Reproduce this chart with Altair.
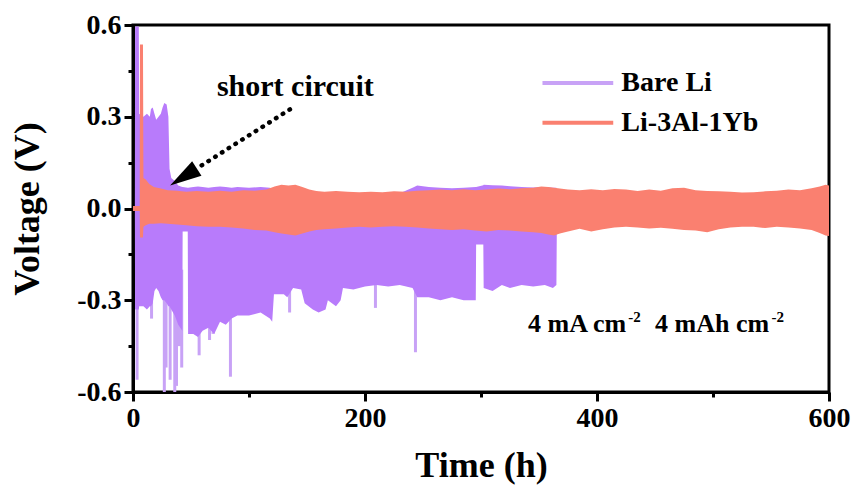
import altair as alt
import pandas as pd

FONT = "Liberation Serif"
PURPLE = "#b87bfb"
PURPLE_LIGHT = "#c8a2f6"
SALMON = "#fa8070"

# ---- Li-3Al-1Yb : envelope of the voltage band (h, V) ----
yb_t = [0, 5.8, 6.0, 8.6, 9.0, 11, 14, 18, 24, 30, 38, 46, 55, 65, 75, 85, 95, 105, 115,
        122, 128, 134, 140, 146, 152, 158, 165, 175, 185, 195, 205, 215, 225, 235, 245,
        255, 265, 275, 285, 295, 305, 315, 325, 335, 345, 352, 358, 363, 368, 375, 385,
        395, 405, 415, 425, 435, 445, 455, 465, 475, 485, 495, 505, 515, 525, 535, 545,
        555, 565, 575, 585, 592, 597, 600]
yb_hi = [0.008, 0.008, 0.536, 0.536, 0.10, 0.095, 0.08, 0.07, 0.065, 0.06, 0.058, 0.055,
         0.057, 0.055, 0.058, 0.055, 0.06, 0.058, 0.062, 0.072, 0.078, 0.075, 0.078, 0.07,
         0.062, 0.057, 0.055, 0.057, 0.055, 0.053, 0.055, 0.053, 0.056, 0.055, 0.058, 0.06,
         0.062, 0.06, 0.063, 0.06, 0.062, 0.065, 0.063, 0.066, 0.068, 0.072, 0.07, 0.068,
         0.065, 0.062, 0.06, 0.063, 0.06, 0.064, 0.062, 0.057, 0.062, 0.058, 0.066, 0.068,
         0.06, 0.057, 0.056, 0.055, 0.052, 0.053, 0.056, 0.058, 0.062, 0.06, 0.066, 0.072,
         0.078, 0.075]
yb_lo = [-0.008, -0.008, -0.095, -0.095, -0.06, -0.055, -0.05, -0.05, -0.048, -0.05,
         -0.052, -0.055, -0.058, -0.06, -0.06, -0.062, -0.065, -0.07, -0.072, -0.078,
         -0.082, -0.085, -0.088, -0.082, -0.075, -0.07, -0.068, -0.065, -0.062, -0.06,
         -0.062, -0.06, -0.058, -0.06, -0.062, -0.065, -0.068, -0.07, -0.068, -0.072,
         -0.075, -0.07, -0.072, -0.075, -0.078, -0.08, -0.085, -0.088, -0.082, -0.075,
         -0.066, -0.075, -0.068, -0.062, -0.06, -0.062, -0.065, -0.063, -0.066, -0.07,
         -0.072, -0.078, -0.068, -0.062, -0.06, -0.06, -0.064, -0.06, -0.062, -0.065,
         -0.07, -0.08, -0.088, -0.09]

# ---- Bare Li : envelope of the voltage band (h, V) ----
li_t = [1.6, 1.8, 5.0, 5.3, 9, 12, 14.5, 15.5, 17, 18.5, 20, 22, 24, 25.5, 27, 29, 30.5,
        31.5, 33, 36, 39, 42.5, 42.8, 47.2, 47.5, 52, 56, 60, 65, 70, 75, 80, 85, 90, 100,
        110, 118, 120, 121.5, 130, 133, 138, 145, 148, 155, 160, 166, 168, 175, 179, 181,
        190, 200, 210, 220, 230, 241, 245, 255, 265, 275, 285, 295.5, 295.8, 302, 302.3,
        310, 318, 325, 335, 345, 355, 362, 365, 365.5]
li_hi = [0.0, 0.595, 0.595, 0.31, 0.30, 0.31, 0.30, 0.325, 0.33, 0.31, 0.29, 0.30, 0.31,
         0.33, 0.345, 0.34, 0.30, 0.13, 0.10, 0.09, 0.075, 0.07, 0.07, 0.068, 0.068, 0.07,
         0.072, 0.07, 0.068, 0.07, 0.072, 0.07, 0.068, 0.07, 0.068, 0.07, 0.068, 0.065,
         0.065, 0.07, 0.07, 0.065, 0.06, 0.06, 0.05, 0.05, 0.05, 0.05, 0.05, 0.05, 0.05,
         0.05, 0.05, 0.05, 0.05, 0.05, 0.068, 0.075, 0.07, 0.068, 0.066, 0.068, 0.07, 0.07,
         0.076, 0.078, 0.076, 0.075, 0.073, 0.07, 0.069, 0.07, 0.068, 0.068, 0.0]
li_lo = [0.0, -0.33, -0.33, -0.32, -0.32, -0.33, -0.32, -0.32, -0.31, -0.27, -0.26,
         -0.27, -0.29, -0.30, -0.30, -0.31, -0.32, -0.32, -0.33, -0.35, -0.38, -0.40,
         -0.075, -0.075, -0.41, -0.41, -0.42, -0.40, -0.39, -0.41, -0.37, -0.38, -0.36,
         -0.35, -0.35, -0.34, -0.36, -0.37, -0.28, -0.28, -0.29, -0.26, -0.265, -0.31,
         -0.33, -0.34, -0.33, -0.30, -0.32, -0.30, -0.26, -0.265, -0.255, -0.25, -0.255,
         -0.25, -0.26, -0.29, -0.29, -0.30, -0.29, -0.30, -0.30, -0.118, -0.118, -0.26,
         -0.27, -0.25, -0.26, -0.25, -0.255, -0.25, -0.26, -0.25, 0.0]

# ---- Bare Li : deep single-cycle spikes (h, V) ----
spike_t = [3.5, 16, 27, 28.5, 32, 36, 37.5, 40, 42, 57, 66, 69, 84, 135, 209, 243.5]
spike_v = [-0.56, -0.36, -0.60, -0.52, -0.56, -0.60, -0.58, -0.45, -0.52, -0.48, -0.43,
           -0.41, -0.55, -0.34, -0.325, -0.47]

# ---- annotations (data units) ----
legend_names = ["Bare Li", "Li-3Al-1Yb"]
legend_colors = [PURPLE_LIGHT, SALMON]
legend_v = [0.41, 0.28]
legend_x0, legend_x1, legend_tx = 353, 414, 421

arrow_start = (135.3, 0.324)
arrow_end = (55.0, 0.131)
arrow_head = (43.5, 0.103)
short_text = (140.0, 0.396)

cond_pieces = ["4 mA cm", "4 mAh cm"]
cond_t = [340.5, 450.0]
sup_t = [427.0, 550.5]
cond_v = -0.405
sup_v = -0.37

X = alt.Scale(domain=[0, 600], nice=False, zero=False)
Y = alt.Scale(domain=[-0.6, 0.6], nice=False, zero=False)

yb = pd.DataFrame({"t": yb_t, "hi": yb_hi, "lo": yb_lo})
li = pd.DataFrame({"t": li_t, "hi": li_hi, "lo": li_lo})
sp = pd.DataFrame({"t": spike_t, "v": spike_v, "top": [-0.2] * len(spike_t)})

x_axis = alt.Axis(
    title="Time (h)", values=list(range(0, 601, 100)),
    labelExpr="datum.value % 200 == 0 ? datum.label : ''",
    tickSize={"condition": {"test": "datum.value % 200 != 0", "value": 5}, "value": 9},
    grid=False, titlePadding=16, labelFlush=False,
)
y_axis = alt.Axis(
    title="Voltage (V)", values=[-0.6, -0.45, -0.3, -0.15, 0, 0.15, 0.3, 0.45, 0.6],
    labelExpr="round(datum.value*100) % 30 == 0 ? (datum.value < 0 ? '-' : '') + format(abs(datum.value), '.1f') : ''",
    tickSize={"condition": {"test": "round(datum.value*100) % 30 != 0", "value": 5}, "value": 9},
    grid=False, titlePadding=30, labelFlush=False,
)

spikes = alt.Chart(sp).mark_rule(color=PURPLE_LIGHT, strokeWidth=3, clip=True).encode(
    x=alt.X("t:Q", scale=X, axis=x_axis),
    y=alt.Y("v:Q", scale=Y, axis=y_axis),
    y2="top:Q",
)
li_area = alt.Chart(li).mark_area(color=PURPLE, clip=True).encode(
    x=alt.X("t:Q", scale=X), y=alt.Y("hi:Q", scale=Y), y2="lo:Q"
)
yb_area = alt.Chart(yb).mark_area(color=SALMON, clip=True).encode(
    x=alt.X("t:Q", scale=X), y=alt.Y("hi:Q", scale=Y), y2="lo:Q"
)

leg = pd.DataFrame({"name": legend_names, "v": legend_v, "x0": [legend_x0] * 2,
                    "x1": [legend_x1] * 2, "tx": [legend_tx] * 2, "c": legend_colors})
leg_lines = alt.Chart(leg).mark_rule(strokeWidth=4).encode(
    x=alt.X("x0:Q", scale=X), x2="x1:Q", y=alt.Y("v:Q", scale=Y),
    color=alt.Color("c:N", scale=None),
)
leg_text = alt.Chart(leg).mark_text(font=FONT, fontWeight="bold", fontSize=28,
                                    align="left", baseline="middle").encode(
    x=alt.X("tx:Q", scale=X), y=alt.Y("v:Q", scale=Y), text="name:N"
)

arr = pd.DataFrame({"x": [arrow_start[0]], "y": [arrow_start[1]],
                    "x2": [arrow_end[0]], "y2": [arrow_end[1]]})
arrow_line = alt.Chart(arr).mark_rule(color="black", strokeWidth=4.5, strokeDash=[0.5, 7.5],
                                      strokeCap="round").encode(
    x=alt.X("x:Q", scale=X), y=alt.Y("y:Q", scale=Y), x2="x2:Q", y2="y2:Q"
)
head = pd.DataFrame({"x": [arrow_head[0]], "y": [arrow_head[1]]})
arrow_head_mark = alt.Chart(head).mark_point(
    shape="M0,-1L0.55,1L-0.55,1Z", filled=True, color="black", opacity=1,
    size=1000, angle=237.6,
).encode(x=alt.X("x:Q", scale=X), y=alt.Y("y:Q", scale=Y))

st = pd.DataFrame({"x": [short_text[0]], "y": [short_text[1]], "s": ["short circuit"]})
short_mark = alt.Chart(st).mark_text(font=FONT, fontWeight="bold", fontSize=30,
                                     align="center", baseline="middle").encode(
    x=alt.X("x:Q", scale=X), y=alt.Y("y:Q", scale=Y), text="s:N"
)

cd = pd.DataFrame({"x": cond_t, "y": [cond_v] * 2, "s": cond_pieces})
cond_mark = alt.Chart(cd).mark_text(font=FONT, fontWeight="bold", fontSize=26,
                                    align="left", baseline="alphabetic").encode(
    x=alt.X("x:Q", scale=X), y=alt.Y("y:Q", scale=Y), text="s:N"
)
sd = pd.DataFrame({"x": sup_t, "y": [sup_v] * 2, "s": ["-2", "-2"]})
sup_mark = alt.Chart(sd).mark_text(font=FONT, fontWeight="bold", fontSize=15,
                                   align="left", baseline="alphabetic").encode(
    x=alt.X("x:Q", scale=X), y=alt.Y("y:Q", scale=Y), text="s:N"
)

chart = alt.layer(
    spikes, li_area, yb_area, leg_lines, leg_text, arrow_line, arrow_head_mark,
    short_mark, cond_mark, sup_mark,
).properties(
    width=696, height=367,
    background="white",
    autosize=alt.AutoSizeParams(type="none"),
    padding={"left": 133, "top": 25, "right": 24, "bottom": 96},
).configure_view(
    stroke="black", strokeWidth=3,
).configure_axis(
    domainColor="black", domainWidth=3, tickColor="black", tickWidth=3,
    labelFont=FONT, labelFontWeight="bold", labelFontSize=28, labelColor="black",
    labelPadding=3, titleFont=FONT, titleFontWeight="bold", titleFontSize=36,
    titleColor="black",
)

chart.save("out.html", embed_options={"renderer": "svg", "actions": False})
